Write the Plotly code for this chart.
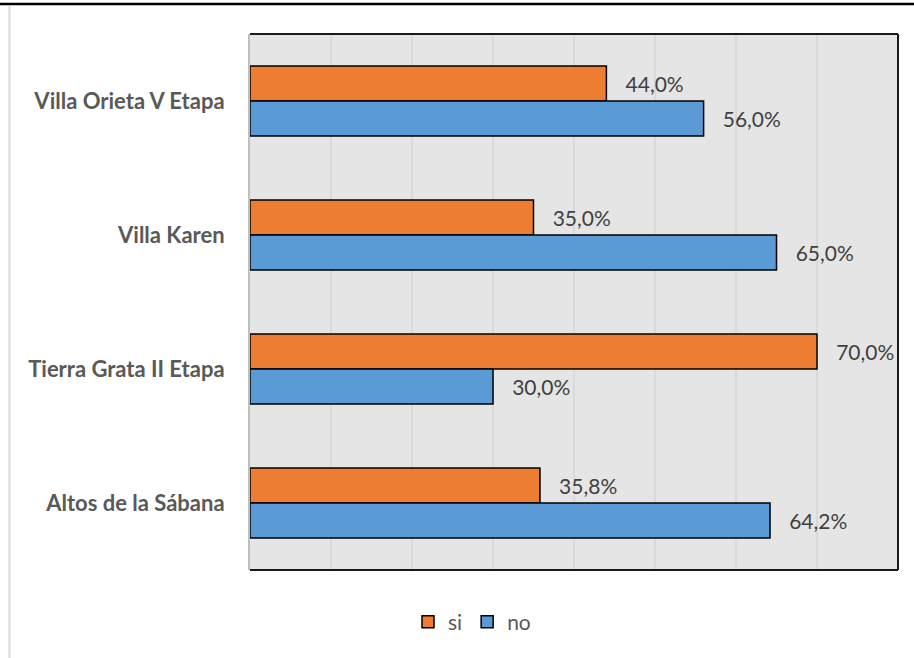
import plotly.graph_objects as go

categories = ["Villa Orieta V Etapa", "Villa Karen", "Tierra Grata II Etapa", "Altos de la Sábana"]
si_values = [44.0, 35.0, 70.0, 35.8]
no_values = [56.0, 65.0, 30.0, 64.2]

PAD = "\u00a0\u00a0\u00a0"

def fmt(v):
    return PAD + f"{v:.1f}".replace(".", ",") + "%"

label_font = dict(family="Lato", size=21, color="#404040")

fig = go.Figure()
fig.add_trace(go.Bar(
    name="si", y=categories, x=si_values, orientation="h",
    marker=dict(color="#ED7D31", line=dict(color="#000000", width=1.5)),
    text=[fmt(v) for v in si_values], textposition="outside",
    textfont=label_font, cliponaxis=False,
))
fig.add_trace(go.Bar(
    name="no", y=categories, x=no_values, orientation="h",
    marker=dict(color="#5B9BD5", line=dict(color="#000000", width=1.5)),
    text=[fmt(v) for v in no_values], textposition="outside",
    textfont=label_font, cliponaxis=False,
))

W, H = 914, 658
L, R, T, B = 250, 16, 34, 88
pw, ph = W - L - R, H - T - B

def px_x(x):
    return (x - L) / pw

def px_y(y):
    return (H - B - y) / ph

fig.update_layout(
    width=W, height=H,
    margin=dict(l=L, r=R, t=T, b=B),
    paper_bgcolor="white", plot_bgcolor="#E5E5E5",
    barmode="group", bargap=0.478, bargroupgap=0,
    showlegend=True,
    legend=dict(orientation="h", x=px_x(472), xanchor="center", y=px_y(622), yanchor="middle",
                font=dict(family="Lato", size=21, color="#595959"), itemwidth=30,
                traceorder="normal"),
    font=dict(family="Lato"),
)
fig.update_xaxes(range=[0, 80], dtick=10, showticklabels=False, showgrid=True,
                 gridcolor="#D9D9D9", gridwidth=2, zeroline=False, showline=False, fixedrange=True)
fig.update_yaxes(autorange="reversed", showgrid=False, showline=True, linecolor="#BFBFBF", linewidth=2,
                 ticks="", ticklabelstandoff=19,
                 tickfont=dict(family="Lato", size=22, color="#595959", weight="bold"))

shapes = [
    dict(type="line", xref="x domain", yref="y domain", x0=0, x1=1, y0=1, y1=1,
         line=dict(color="#1A1A1A", width=2)),
    dict(type="line", xref="x domain", yref="y domain", x0=1, x1=1, y0=0, y1=1,
         line=dict(color="#1A1A1A", width=2)),
    dict(type="line", xref="x domain", yref="y domain", x0=0, x1=1, y0=0, y1=0,
         line=dict(color="#1A1A1A", width=2)),
    dict(type="line", xref="paper", yref="paper", x0=px_x(0), x1=px_x(914), y0=px_y(4), y1=px_y(4),
         line=dict(color="#000000", width=2.5)),
    dict(type="line", xref="paper", yref="paper", x0=px_x(9.5), x1=px_x(9.5), y0=px_y(6), y1=px_y(658),
         line=dict(color="#D9D9D9", width=2)),
]
fig.update_layout(shapes=shapes)

fig.write_html("out.html", config={"displayModeBar": False},
               post_script="document.body.style.margin='0';")
